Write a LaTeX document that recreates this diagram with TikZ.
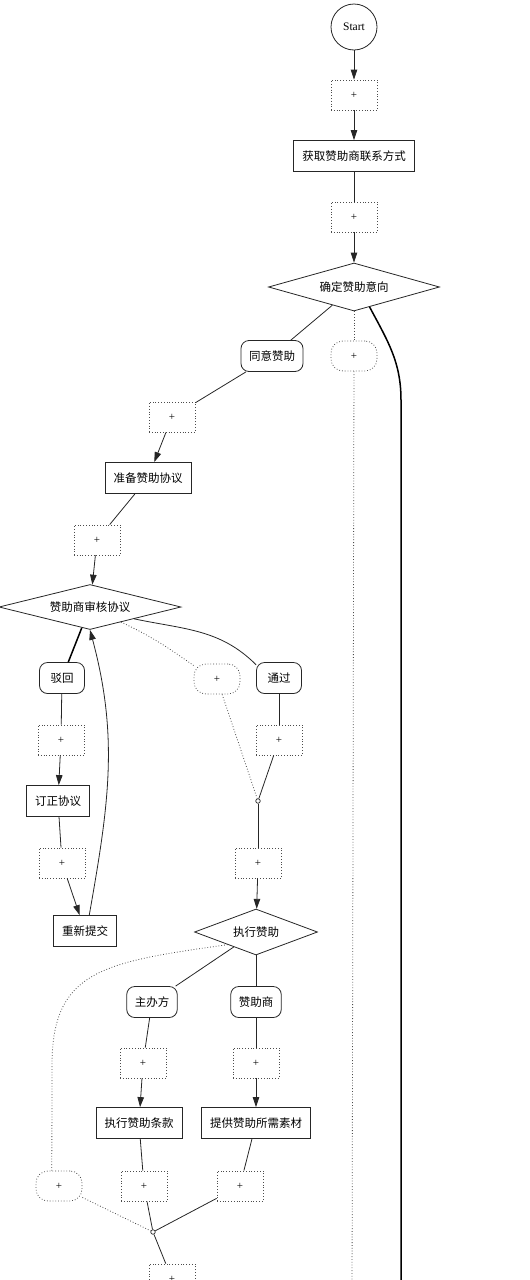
\documentclass[tikz,border=0pt]{standalone}
\usepackage{fontspec}
\setmainfont{Liberation Serif}
\newfontfamily\cjk{Noto Sans CJK SC}
\usetikzlibrary{arrows.meta,shapes.geometric}

\begin{document}
\begin{tikzpicture}[
  x=1pt, y=1pt,
  font=\cjk\fontsize{11.5}{13}\selectfont,
  act/.style={draw=black!85, line width=0.8pt, minimum height=31pt, inner xsep=8.5pt, inner ysep=2pt},
  dec/.style={draw=black!85, line width=0.8pt, diamond, aspect=3.5, inner sep=1pt},
  opt/.style={draw=black!85, line width=0.8pt, rounded corners=8pt, minimum height=31pt, minimum width=45pt, inner xsep=8pt},
  pl/.style={draw=black!70, dotted, line width=0.8pt, minimum width=46pt, minimum height=30pt, inner sep=0pt, font=\fontsize{11}{12}\selectfont},
  plr/.style={pl, rounded corners=12pt},
  jn/.style={draw=black!85, circle, fill=white, inner sep=0pt, minimum size=4.5pt, line width=0.7pt},
  ln/.style={draw=black!85, line width=0.8pt},
  arr/.style={ln, -{Triangle[length=10pt,width=6.5pt]}},
  dot/.style={draw=black!70, dotted, line width=0.8pt},
  bold/.style={draw=black, line width=1.5pt},
]
\useasboundingbox (0,0) rectangle (530,-1280);
\clip (0,0) rectangle (530,-1280);

\node[circle, draw=black!85, line width=0.8pt, minimum size=46pt, inner sep=0pt, font=\fontsize{11.5}{13}\selectfont] (start) at (354,-27) {Start};
\node[pl] (p1) at (354,-95) {+};
\node[act] (contact) at (354,-156) {获取赞助商联系方式};
\node[pl] (p2) at (354,-217) {+};
\node[dec, minimum width=171pt, minimum height=48pt] (intent) at (354,-287) {确定赞助意向};
\node[opt] (agree) at (272,-356) {同意赞助};
\node[plr] (pi) at (354,-356) {+};
\node[pl] (p3) at (172,-417) {+};
\node[act] (prep) at (148,-478) {准备赞助协议};
\node[pl] (p4) at (97,-540) {+};
\node[dec, minimum width=182pt, minimum height=45pt] (review) at (90,-607) {赞助商审核协议};
\node[opt] (reject) at (62,-678) {驳回};
\node[plr] (pr) at (217,-679) {+};
\node[opt] (pass) at (279,-678) {通过};
\node[pl] (p5) at (61,-740) {+};
\node[act] (fix) at (58,-801) {订正协议};
\node[pl] (p6) at (62,-863) {+};
\node[act] (resub) at (85,-931) {重新提交};
\node[pl] (p7) at (279,-740) {+};
\node[jn] (j1) at (258,-801) {};
\node[pl] (p8) at (258,-863) {+};
\node[dec, minimum width=123pt, minimum height=46pt] (exec) at (256,-932) {执行赞助};
\node[opt] (host) at (152,-1002) {主办方};
\node[opt] (spon) at (256,-1002) {赞助商};
\node[pl] (p9) at (143,-1063) {+};
\node[pl] (p10) at (256,-1063) {+};
\node[act] (terms) at (139,-1123) {执行赞助条款};
\node[act] (mater) at (256,-1123) {提供赞助所需素材};
\node[plr] (pe) at (59,-1186) {+};
\node[pl] (p11) at (144,-1186) {+};
\node[pl] (p12) at (240,-1186) {+};
\node[jn] (j2) at (153,-1232) {};
\node[pl] (p13) at (172,-1279) {+};
\coordinate (endA) at (352,-1300);
\coordinate (bendB) at (401,-400);
\coordinate (endB) at (401,-1300);
\coordinate (bendE) at (52,-1065);

\draw[arr] (start) -- (p1);
\draw[arr] (p1) -- (contact);
\draw[ln] (contact) -- (p2);
\draw[arr] (p2) -- (intent);
\draw[ln] (intent) -- (agree);
\draw[dot] (intent) -- (pi);
\draw[dot] (pi) -- (endA);
\draw[bold] (intent.-52) to[out=-62,in=90] (bendB) -- (endB);
\draw[ln] (agree) -- (p3);
\draw[arr] (p3) -- (prep);
\draw[ln] (prep) -- (p4);
\draw[arr] (p4) -- (review);

\draw[bold] (review) -- (reject);
\draw[ln] (review.-15) to[out=-12,in=135] (pass.150);
\draw[dot] (review.-26) to[out=-25,in=145] (pr.150);
\draw[ln] (reject) -- (p5);
\draw[arr] (p5) -- (fix);
\draw[ln] (fix) -- (p6);
\draw[arr] (p6) -- (resub);
\draw[arr] (resub.75) to[out=80,in=-75] (review.south);
\draw[ln] (pass) -- (p7);
\draw[ln] (p7) -- (j1);
\draw[dot] (pr) -- (j1);
\draw[ln] (j1) -- (p8);
\draw[arr] (p8) -- (exec);

\draw[ln] (exec) -- (host);
\draw[ln] (exec) -- (spon);
\draw[dot] (exec.204) to[out=188,in=90,out distance=125pt,in distance=95pt] (bendE) -- (pe.115);
\draw[ln] (host) -- (p9);
\draw[arr] (p9) -- (terms);
\draw[ln] (spon) -- (p10);
\draw[arr] (p10) -- (mater);
\draw[ln] (terms) -- (p11);
\draw[ln] (mater) -- (p12);
\draw[ln] (p11) -- (j2);
\draw[ln] (p12) -- (j2);
\draw[dot] (pe) -- (j2);
\draw[ln] (j2) -- (p13);
\end{tikzpicture}
\end{document}
